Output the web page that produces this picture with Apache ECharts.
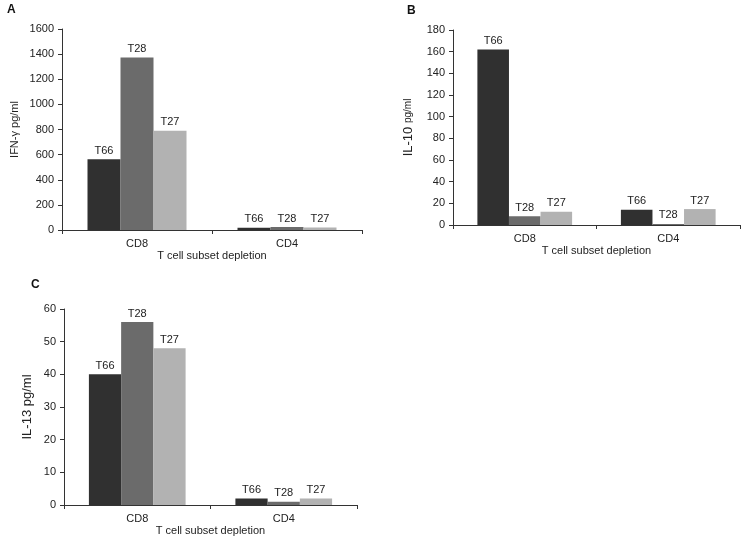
<!DOCTYPE html>
<html>
<head>
<meta charset="utf-8">
<script src="https://cdn.jsdelivr.net/npm/echarts@6/dist/echarts.min.js"></script>
<style>
html,body{margin:0;padding:0;background:#fff;}
#c{width:746px;height:543px;}
</style>
</head>
<body>
<div id="c"></div>
<script>
const categories = ['CD8', 'CD4'];
const seriesNames = ['T66', 'T28', 'T27'];
const colors = ['#303030', '#6b6b6b', '#b2b2b2'];

// Panel A: IFN-γ pg/ml
const ifnT66 = [563, 18];
const ifnT28 = [1373, 24];
const ifnT27 = [791, 20];
// Panel B: IL-10 pg/ml
const il10T66 = [162, 14];
const il10T28 = [8, 1];
const il10T27 = [12.3, 14.7];
// Panel C: IL-13 pg/ml
const il13T66 = [40, 2];
const il13T28 = [56, 1];
const il13T27 = [48, 2];

const yTicksA = {min: 0, max: 1600, interval: 200};
const yTicksB = {min: 0, max: 180, interval: 20};
const yTicksC = {min: 0, max: 60, interval: 10};

const panels = [
  {data: [ifnT66, ifnT28, ifnT27], ticks: yTicksA},
  {data: [il10T66, il10T28, il10T27], ticks: yTicksB},
  {data: [il13T66, il13T28, il13T27], ticks: yTicksC}
];

const font = 'Liberation Sans, Arial, sans-serif';
const txt = '#222';
const axisCol = '#333';

const grids = [
  {left: 62, top: 29, width: 300, height: 201},
  {left: 453, top: 30, width: 287, height: 195},
  {left: 64, top: 309, width: 293, height: 196}
];

const yNames = [
  {name: 'IFN-γ pg/ml', gap: 42, style: {fontSize: 11}},
  {name: '{a|IL-10} {b|pg/ml}', gap: 38, style: {fontSize: 13, rich: {a: {fontSize: 13, fontFamily: font, color: txt}, b: {fontSize: 10, fontFamily: font, color: txt}}}},
  {name: 'IL-13 pg/ml', gap: 30, style: {fontSize: 13}}
];

const xAxes = grids.map((g, i) => ({
  type: 'category', gridIndex: i, data: categories,
  name: 'T cell subset depletion', nameLocation: 'middle', nameGap: 20,
  nameTextStyle: {fontFamily: font, fontSize: 11, color: txt},
  axisLine: {lineStyle: {color: axisCol, width: 1}},
  axisTick: {show: true, length: 4, lineStyle: {color: axisCol}},
  axisLabel: {fontFamily: font, fontSize: 11, color: txt, margin: 8}
}));

const yAxes = grids.map((g, i) => Object.assign({
  type: 'value', gridIndex: i,
  name: yNames[i].name, nameLocation: 'middle', nameGap: yNames[i].gap, nameRotate: 90,
  nameTextStyle: Object.assign({fontFamily: font, color: txt}, yNames[i].style),
  axisLine: {show: true, lineStyle: {color: axisCol, width: 1}},
  axisTick: {show: true, length: 4, lineStyle: {color: axisCol}},
  axisLabel: {fontFamily: font, fontSize: 11, color: txt, margin: 8, formatter: v => String(v)},
  splitLine: {show: false}
}, panels[i].ticks));

const series = [];
panels.forEach((p, i) => {
  p.data.forEach((vals, k) => {
    series.push({
      type: 'bar', name: seriesNames[k], xAxisIndex: i, yAxisIndex: i,
      data: vals, barGap: '0%', barCategoryGap: '34%',
      itemStyle: {color: colors[k]},
      label: {show: true, position: 'top', distance: 3, formatter: seriesNames[k],
        fontFamily: font, fontSize: 11, color: txt},
      animation: false
    });
  });
});

const chart = echarts.init(document.getElementById('c'), null, {renderer: 'canvas'});
chart.setOption({
  backgroundColor: '#fff',
  animation: false,
  grid: grids,
  xAxis: xAxes,
  yAxis: yAxes,
  series: series,
  graphic: [
    {type: 'text', left: 7, top: 4, style: {text: 'A', font: 'bold 12px ' + font, fill: '#111'}},
    {type: 'text', left: 407, top: 5, style: {text: 'B', font: 'bold 12px ' + font, fill: '#111'}},
    {type: 'text', left: 31, top: 279, style: {text: 'C', font: 'bold 12px ' + font, fill: '#111'}}
  ]
});
</script>
</body>
</html>
